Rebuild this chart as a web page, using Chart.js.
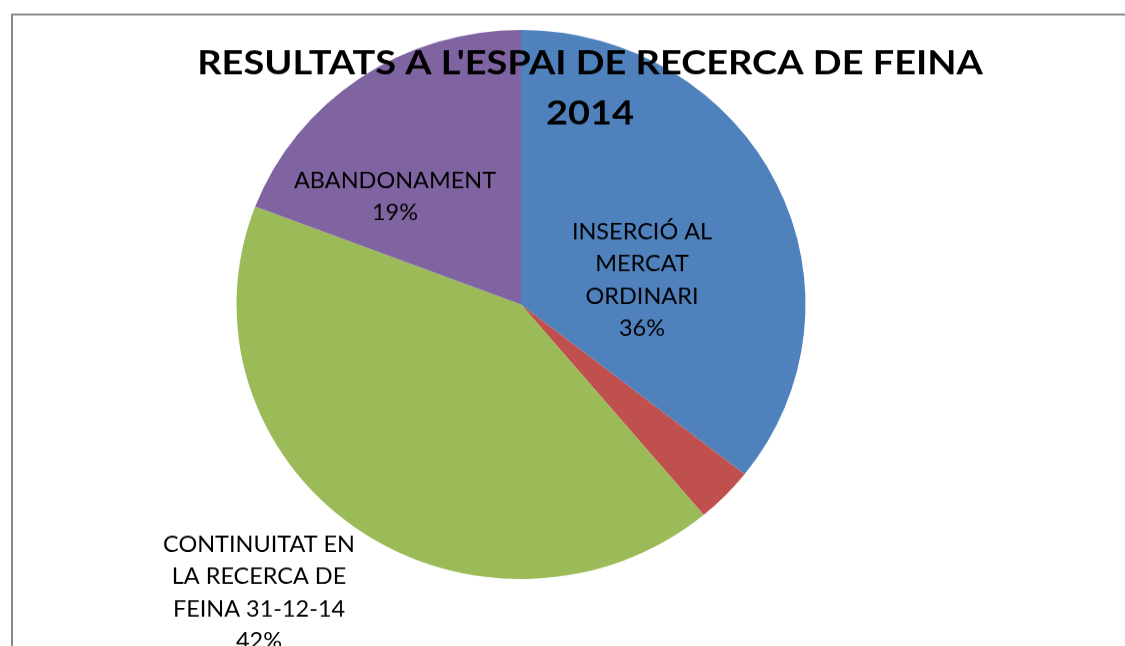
<!DOCTYPE html>
<html>
<head>
<meta charset="utf-8">
<script src="https://cdn.jsdelivr.net/npm/chart.js@4.4.1/dist/chart.umd.min.js"></script>
<style>
  html, body { margin: 0; padding: 0; background: #fff; overflow: hidden; }
  /* the original pie is a little wider than tall, so squash the whole drawing */
  #wrap { width: 1125px; height: 670px; transform: scaleY(0.965); transform-origin: 0 0; }
</style>
</head>
<body>
<div id="wrap"><canvas id="chart" width="1125" height="670"></canvas></div>
<script>
// data
const categories = ['INSERCIÓ AL MERCAT ORDINARI', 'ALTRES', 'CONTINUITAT EN LA RECERCA DE FEINA 31-12-14', 'ABANDONAMENT'];
const values = [35.6, 3.3, 41.9, 19.2];
const colors = ['#4F81BD', '#C0504D', '#9BBB59', '#8064A2'];
const labelLines = [['INSERCIÓ AL', 'MERCAT', 'ORDINARI'], null, ['CONTINUITAT EN', 'LA RECERCA DE', 'FEINA 31-12-14'], ['ABANDONAMENT']];
const titleLines = ["RESULTATS A L'ESPAI DE RECERCA DE FEINA", '2014'];

// where the labels sit (screen px, centre of first line)
const labelPos = [[642, 231], null, [259, 544], [395, 180]];
const K = 0.965;
const FONT = 'Lato';

function fitSize(ctx, text, target, weight) {
  ctx.font = `${weight} 100px ${FONT}`;
  return 100 * target / ctx.measureText(text).width;
}

// draw text lines centred on cap height, y given in screen px,
// stretched vertically so the cap height matches capPx on screen
function drawLines(ctx, lines, x, y, step, size, weight, capPx) {
  ctx.font = `${weight} ${size}px ${FONT}`;
  const cap = ctx.measureText('H').actualBoundingBoxAscent;
  const sy = capPx / K / cap;
  ctx.fillStyle = '#000';
  ctx.textAlign = 'center';
  ctx.textBaseline = 'alphabetic';
  lines.forEach((line, i) => {
    const cy = (y + i * step) / K;
    ctx.save();
    ctx.translate(x, cy);
    ctx.scale(1, sy);
    ctx.fillText(line, 0, cap / 2);
    ctx.restore();
  });
}

const decor = {
  id: 'decor',
  beforeDraw(chart) {
    const ctx = chart.ctx;
    ctx.save();
    ctx.strokeStyle = '#898989';
    ctx.lineWidth = 2;
    ctx.beginPath();
    ctx.moveTo(12, 700);
    ctx.lineTo(12, 15);
    ctx.lineTo(1130, 15);
    ctx.stroke();
    ctx.restore();
  },
  afterDraw(chart) {
    const ctx = chart.ctx;
    ctx.save();
    const total = values.reduce((a, b) => a + b, 0);
    const labelSize = fitSize(ctx, 'CONTINUITAT EN', 192, 400);
    values.forEach((v, i) => {
      if (!labelLines[i]) return;
      const pct = Math.round(v / total * 100) + '%';
      drawLines(ctx, labelLines[i].concat([pct]), labelPos[i][0], labelPos[i][1], 32.3, labelSize, 400, 16);
    });
    const titleSize = fitSize(ctx, titleLines[0], 786, 700);
    drawLines(ctx, titleLines, 590, 62, 50, titleSize, 700, 25);
    ctx.restore();
  }
};

function build() {
  new Chart(document.getElementById('chart'), {
    type: 'pie',
    data: {
      labels: categories,
      datasets: [{
        data: values,
        backgroundColor: colors,
        borderWidth: 0
      }]
    },
    options: {
      responsive: false,
      animation: false,
      layout: { padding: { left: 236, right: 319, top: 31, bottom: 70 } },
      plugins: {
        legend: { display: false },
        title: { display: false },
        tooltip: { enabled: false }
      }
    },
    plugins: [decor]
  });
}

Promise.all([
  document.fonts.load(`400 20px ${FONT}`),
  document.fonts.load(`700 20px ${FONT}`)
]).then(build, build);
</script>
</body>
</html>
